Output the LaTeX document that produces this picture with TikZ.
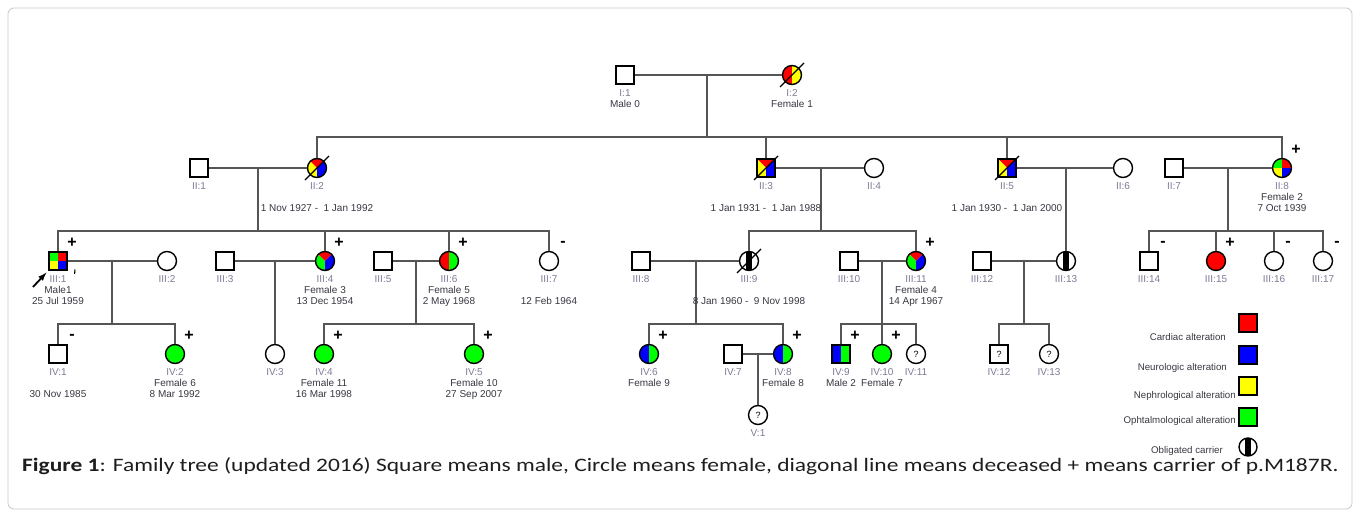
\documentclass[tikz,border=0pt]{standalone}
\usepackage{fontspec}
\setmainfont{Liberation Sans}
\newfontfamily\capfont{Carlito}
\usetikzlibrary{positioning}

\definecolor{cred}{RGB}{255,0,0}
\definecolor{cblue}{RGB}{0,0,255}
\definecolor{cyellow}{RGB}{255,255,0}
\definecolor{cgreen}{RGB}{0,255,0}
\definecolor{linegray}{RGB}{85,85,85}
\definecolor{idgray}{RGB}{128,120,150}
\definecolor{namegray}{RGB}{55,55,65}
\definecolor{framegray}{RGB}{200,200,200}

\newcommand{\lblfont}{\fontsize{10}{11}\selectfont}
\newcommand{\legfont}{\fontsize{9.7}{11}\selectfont}
\newcommand{\signfont}{\fontsize{16}{16}\selectfont\bfseries}
\newcommand{\qfont}{\fontsize{9}{9}\selectfont}
\newcommand{\pid}[1]{\textcolor{idgray}{#1}}

\begin{document}
\begin{tikzpicture}[x=1pt, y=-1pt,
    line/.style={draw=linegray, line width=1.3pt},
    male/.style={draw, line width=1.4pt, fill=white, minimum size=18pt, inner sep=0pt},
    female/.style={draw, circle, line width=1.4pt, fill=white, minimum size=19pt, inner sep=0pt},
    lbl/.style={align=center, font=\lblfont, text=namegray, inner sep=0pt},
    legtxt/.style={anchor=east, font=\legfont, text=namegray, inner sep=0pt},
    sign/.style={font=\signfont, inner sep=0pt},
    dead/.style={line width=1.2pt},
    halves/.style 2 args={path picture={
        \fill[#1] (path picture bounding box.south west) rectangle (path picture bounding box.north);
        \fill[#2] (path picture bounding box.south) rectangle (path picture bounding box.north east);}},
    quads/.style={path picture={
        \fill[cgreen] (path picture bounding box.center) rectangle (path picture bounding box.north west);
        \fill[cred] (path picture bounding box.center) rectangle (path picture bounding box.north east);
        \fill[cyellow] (path picture bounding box.center) rectangle (path picture bounding box.south west);
        \fill[cblue] (path picture bounding box.center) rectangle (path picture bounding box.south east);}},
    trio/.style 2 args={path picture={
        \fill[cred] (path picture bounding box.center) -- (path picture bounding box.north west)
            -- (path picture bounding box.north east) -- cycle;
        \fill[#1] (path picture bounding box.center) -- (path picture bounding box.north west)
            -- (path picture bounding box.south west) -- (path picture bounding box.south) -- cycle;
        \fill[#2] (path picture bounding box.center) -- (path picture bounding box.north east)
            -- (path picture bounding box.south east) -- (path picture bounding box.south) -- cycle;}},
    carrier/.style={path picture={
        \fill[black] ([xshift=-3pt]path picture bounding box.south) rectangle ([xshift=3pt]path picture bounding box.north);}}
]
\useasboundingbox (0,0) rectangle (1360,517);
\draw[framegray, line width=0.8pt, rounded corners=6pt] (8,8) rectangle (1352,509);

\node[male] (i1) at (625,75) {};
\node[female, halves={cred}{cyellow}] (i2) at (792,75) {};

\node[male] (ii1) at (199,168) {};
\node[female, trio={cyellow}{cblue}] (ii2) at (317,168) {};
\node[male, trio={cyellow}{cblue}] (ii3) at (766,168) {};
\node[female] (ii4) at (874,168) {};
\node[male, trio={cyellow}{cblue}] (ii5) at (1007,168) {};
\node[female] (ii6) at (1123,168) {};
\node[male] (ii7) at (1174,168) {};
\node[female, quads] (ii8) at (1282,168) {};

\node[male, quads] (iii1) at (58,261) {};
\node[female] (iii2) at (167,261) {};
\node[male] (iii3) at (225,261) {};
\node[female, trio={cgreen}{cblue}] (iii4) at (325,261) {};
\node[male] (iii5) at (383,261) {};
\node[female, halves={cred}{cgreen}] (iii6) at (449,261) {};
\node[female] (iii7) at (549,261) {};
\node[male] (iii8) at (641,261) {};
\node[female, carrier] (iii9) at (749,261) {};
\node[male] (iii10) at (849,261) {};
\node[female, trio={cgreen}{cblue}] (iii11) at (916,261) {};
\node[male] (iii12) at (982,261) {};
\node[female, carrier] (iii13) at (1066,261) {};
\node[male] (iii14) at (1149,261) {};
\node[female, fill=cred] (iii15) at (1216,261) {};
\node[female] (iii16) at (1274,261) {};
\node[female] (iii17) at (1323,261) {};

\node[male] (iv1) at (58,354) {};
\node[female, fill=cgreen] (iv2) at (175,354) {};
\node[female] (iv3) at (275,354) {};
\node[female, fill=cgreen] (iv4) at (324,354) {};
\node[female, fill=cgreen] (iv5) at (474,354) {};
\node[female, halves={cblue}{cgreen}] (iv6) at (649,354) {};
\node[male] (iv7) at (733,354) {};
\node[female, halves={cblue}{cgreen}] (iv8) at (783,354) {};
\node[male, halves={cblue}{cgreen}] (iv9) at (841,354) {};
\node[female, fill=cgreen] (iv10) at (882,354) {};
\node[female] (iv11) at (916,354) {\qfont ?};
\node[male] (iv12) at (999,354) {\qfont ?};
\node[female] (iv13) at (1049,354) {\qfont ?};

\node[female] (v1) at (758,415) {\qfont ?};

\coordinate (m1) at (707,75);
\coordinate (s1) at (707,137);
\coordinate (m2) at (258,168);
\coordinate (s2) at (258,231);
\coordinate (m3) at (821,168);
\coordinate (s3) at (821,231);
\coordinate (m4) at (1066,168);
\coordinate (m5) at (1228,168);
\coordinate (s5) at (1228,231);
\coordinate (n1) at (112,261);
\coordinate (t1) at (112,324);
\coordinate (n2) at (275,261);
\coordinate (n3) at (416,261);
\coordinate (t3) at (416,324);
\coordinate (n4) at (696,261);
\coordinate (t4) at (696,324);
\coordinate (n5) at (882,261);
\coordinate (t5) at (882,324);
\coordinate (n6) at (1024,261);
\coordinate (t6) at (1024,324);
\coordinate (o1) at (758,354);

\draw[line] (i1) -- (i2);
\draw[line] (m1) -- (s1);
\draw[line] (ii2) |- (s1) -| (ii8);
\draw[line] (ii3) -- (ii3 |- s1);
\draw[line] (ii5) -- (ii5 |- s1);

\draw[line] (ii1) -- (ii2);
\draw[line] (ii3) -- (ii4);
\draw[line] (ii5) -- (ii6);
\draw[line] (ii7) -- (ii8);
\draw[line] (m2) -- (s2);
\draw[line] (iii1) |- (s2) -| (iii7);
\draw[line] (iii4) -- (iii4 |- s2);
\draw[line] (iii6) -- (iii6 |- s2);
\draw[line] (m3) -- (s3);
\draw[line] (iii9) |- (s3) -| (iii11);
\draw[line] (m4) -- (iii13);
\draw[line] (m5) -- (s5);
\draw[line] (iii14) |- (s5) -| (iii17);
\draw[line] (iii15) -- (iii15 |- s5);
\draw[line] (iii16) -- (iii16 |- s5);

\draw[line] (iii1) -- (iii2);
\draw[line] (iii3) -- (iii4);
\draw[line] (iii5) -- (iii6);
\draw[line] (iii8) -- (iii9);
\draw[line] (iii10) -- (iii11);
\draw[line] (iii12) -- (iii13);
\draw[line] (n1) -- (t1);
\draw[line] (iv1) |- (t1) -| (iv2);
\draw[line] (n2) -- (iv3);
\draw[line] (n3) -- (t3);
\draw[line] (iv4) |- (t3) -| (iv5);
\draw[line] (n4) -- (t4);
\draw[line] (iv6) |- (t4) -| (iv8);
\draw[line] (n5) -- (iv10);
\draw[line] (iv9) |- (t5) -| (iv11);
\draw[line] (n6) -- (t6);
\draw[line] (iv12) |- (t6) -| (iv13);
\draw[line] (iv7) -- (iv8);
\draw[line] (o1) -- (v1);

\draw[dead] ([shift={(-12,12)}]i2.center) -- ([shift={(12,-12)}]i2.center);
\draw[dead] ([shift={(-12,12)}]ii2.center) -- ([shift={(12,-12)}]ii2.center);
\draw[dead] ([shift={(-12,12)}]ii3.center) -- ([shift={(12,-12)}]ii3.center);
\draw[dead] ([shift={(-12,12)}]ii5.center) -- ([shift={(12,-12)}]ii5.center);
\draw[dead] ([shift={(-12,12)}]iii9.center) -- ([shift={(12,-12)}]iii9.center);

\node[lbl, below=14pt of i1.center] (i1l) {\pid{I:1}\\Male 0};
\node[lbl, below=14pt of i2.center] (i2l) {\pid{I:2}\\Female 1};
\node[lbl, below=14pt of ii1.center] (ii1l) {\pid{II:1}};
\node[lbl, below=14pt of ii2.center] (ii2l) {\pid{II:2}\\[11pt]1 Nov 1927 -\ \ 1 Jan 1992};
\node[lbl, below=14pt of ii3.center] (ii3l) {\pid{II:3}\\[11pt]1 Jan 1931 -\ \ 1 Jan 1988};
\node[lbl, below=14pt of ii4.center] (ii4l) {\pid{II:4}};
\node[lbl, below=14pt of ii5.center] (ii5l) {\pid{II:5}\\[11pt]1 Jan 1930 -\ \ 1 Jan 2000};
\node[lbl, below=14pt of ii6.center] (ii6l) {\pid{II:6}};
\node[lbl, below=14pt of ii7.center] (ii7l) {\pid{II:7}};
\node[lbl, below=14pt of ii8.center] (ii8l) {\pid{II:8}\\Female 2\\7 Oct 1939};
\node[lbl, below=14pt of iii1.center] (iii1l) {\pid{III:1}\\Male1\\25 Jul 1959};
\node[lbl, below=14pt of iii2.center] (iii2l) {\pid{III:2}};
\node[lbl, below=14pt of iii3.center] (iii3l) {\pid{III:3}};
\node[lbl, below=14pt of iii4.center] (iii4l) {\pid{III:4}\\Female 3\\13 Dec 1954};
\node[lbl, below=14pt of iii5.center] (iii5l) {\pid{III:5}};
\node[lbl, below=14pt of iii6.center] (iii6l) {\pid{III:6}\\Female 5\\2 May 1968};
\node[lbl, below=14pt of iii7.center] (iii7l) {\pid{III:7}\\[11pt]12 Feb 1964};
\node[lbl, below=14pt of iii8.center] (iii8l) {\pid{III:8}};
\node[lbl, below=14pt of iii9.center] (iii9l) {\pid{III:9}\\[11pt]8 Jan 1960 -\ \ 9 Nov 1998};
\node[lbl, below=14pt of iii10.center] (iii10l) {\pid{III:10}};
\node[lbl, below=14pt of iii11.center] (iii11l) {\pid{III:11}\\Female 4\\14 Apr 1967};
\node[lbl, below=14pt of iii12.center] (iii12l) {\pid{III:12}};
\node[lbl, below=14pt of iii13.center] (iii13l) {\pid{III:13}};
\node[lbl, below=14pt of iii14.center] (iii14l) {\pid{III:14}};
\node[lbl, below=14pt of iii15.center] (iii15l) {\pid{III:15}};
\node[lbl, below=14pt of iii16.center] (iii16l) {\pid{III:16}};
\node[lbl, below=14pt of iii17.center] (iii17l) {\pid{III:17}};
\node[lbl, below=14pt of iv1.center] (iv1l) {\pid{IV:1}\\[11pt]30 Nov 1985};
\node[lbl, below=14pt of iv2.center] (iv2l) {\pid{IV:2}\\Female 6\\8 Mar 1992};
\node[lbl, below=14pt of iv3.center] (iv3l) {\pid{IV:3}};
\node[lbl, below=14pt of iv4.center] (iv4l) {\pid{IV:4}\\Female 11\\16 Mar 1998};
\node[lbl, below=14pt of iv5.center] (iv5l) {\pid{IV:5}\\Female 10\\27 Sep 2007};
\node[lbl, below=14pt of iv6.center] (iv6l) {\pid{IV:6}\\Female 9};
\node[lbl, below=14pt of iv7.center] (iv7l) {\pid{IV:7}};
\node[lbl, below=14pt of iv8.center] (iv8l) {\pid{IV:8}\\Female 8};
\node[lbl, below=14pt of iv9.center] (iv9l) {\pid{IV:9}\\Male 2};
\node[lbl, below=14pt of iv10.center] (iv10l) {\pid{IV:10}\\Female 7};
\node[lbl, below=14pt of iv11.center] (iv11l) {\pid{IV:11}};
\node[lbl, below=14pt of iv12.center] (iv12l) {\pid{IV:12}};
\node[lbl, below=14pt of iv13.center] (iv13l) {\pid{IV:13}};
\node[lbl, below=14pt of v1.center] (v1l) {\pid{V:1}};

\node[sign] (ii8s) at ([shift={(14,-18)}]ii8.center) {+};
\node[sign] (iii1s) at ([shift={(14,-18)}]iii1.center) {+};
\node[sign] (iii4s) at ([shift={(14,-18)}]iii4.center) {+};
\node[sign] (iii6s) at ([shift={(14,-18)}]iii6.center) {+};
\node[sign] (iii7s) at ([shift={(14,-17)}]iii7.center) {-};
\node[sign] (iii11s) at ([shift={(14,-18)}]iii11.center) {+};
\node[sign] (iii14s) at ([shift={(14,-17)}]iii14.center) {-};
\node[sign] (iii15s) at ([shift={(14,-18)}]iii15.center) {+};
\node[sign] (iii16s) at ([shift={(14,-17)}]iii16.center) {-};
\node[sign] (iii17s) at ([shift={(14,-17)}]iii17.center) {-};
\node[sign] (iv1s) at ([shift={(14,-17)}]iv1.center) {-};
\node[sign] (iv2s) at ([shift={(14,-18)}]iv2.center) {+};
\node[sign] (iv4s) at ([shift={(14,-18)}]iv4.center) {+};
\node[sign] (iv5s) at ([shift={(14,-18)}]iv5.center) {+};
\node[sign] (iv6s) at ([shift={(14,-18)}]iv6.center) {+};
\node[sign] (iv8s) at ([shift={(14,-18)}]iv8.center) {+};
\node[sign] (iv9s) at ([shift={(14,-18)}]iv9.center) {+};
\node[sign] (iv10s) at ([shift={(14,-18)}]iv10.center) {+};

\coordinate (proband) at (33,287);
\draw[-latex, line width=1.8pt] (proband) -- ([shift={(-2,2)}]iii1.south west);
\draw[line width=1.1pt] (75,269.5) -- (74.6,274);

\node[male, fill=cred] (kcard) at (1248,323) {};
\node[male, fill=cblue] (kneur) at (1248,355) {};
\node[male, fill=cyellow] (knephr) at (1248,386) {};
\node[male, fill=cgreen] (kopht) at (1248,417) {};
\node[female, carrier, minimum size=18pt] (kcarr) at (1248,447) {};
\node[legtxt] (kcardt) at (1226,337) {Cardiac alteration};
\node[legtxt] (kneurt) at (1227,368) {Neurologic alteration};
\node[legtxt] (knephrt) at (1236,396) {Nephrological alteration};
\node[legtxt] (kophtt) at (1236,421) {Ophtalmological alteration};
\node[legtxt] (kcarrt) at (1223,451) {Obligated carrier};

\node[anchor=base west, inner sep=0pt, text={rgb,255:red,30;green,30;blue,30}] (cap) at (22,471)
    {\capfont\fontsize{19}{19}\selectfont\scalebox{1.235}[1]{\textbf{Figure 1}: Family tree (updated 2016) Square means male, Circle means female, diagonal line means deceased + means carrier of p.M187R.}};
\end{tikzpicture}
\end{document}
